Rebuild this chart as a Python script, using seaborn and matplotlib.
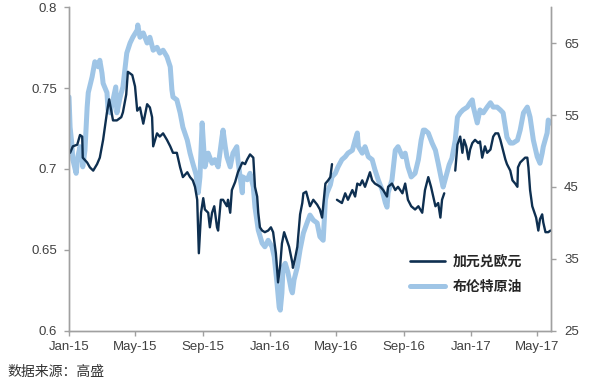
import numpy as np
import pandas as pd
import matplotlib
matplotlib.use('Agg')
import matplotlib.pyplot as plt
from matplotlib.lines import Line2D
import seaborn as sns

# 加元兑欧元 (left axis); NaN marks a break in the line
cad_dates = [
    '2015-01-03', '2015-01-08', '2015-01-16', '2015-01-21', '2015-01-25', '2015-01-26', '2015-02-03',
    '2015-02-08', '2015-02-14', '2015-02-21', '2015-02-26', '2015-03-04', '2015-03-11', '2015-03-15',
    '2015-03-22', '2015-03-29', '2015-04-06', '2015-04-09', '2015-04-15', '2015-04-18', '2015-04-26',
    '2015-05-01', '2015-05-05', '2015-05-10', '2015-05-16', '2015-05-23', '2015-05-28', '2015-06-01',
    '2015-06-03', '2015-06-10', '2015-06-15', '2015-06-21', '2015-06-28', '2015-07-04', '2015-07-09',
    '2015-07-16', '2015-07-22', '2015-07-27', '2015-08-04', '2015-08-09', '2015-08-14', '2015-08-18',
    '2015-08-22', '2015-08-25', '2015-08-29', '2015-09-02', '2015-09-05', '2015-09-11', '2015-09-14',
    '2015-09-18', '2015-09-22', '2015-09-27', '2015-09-29', '2015-10-04', '2015-10-08', '2015-10-15',
    '2015-10-17', '2015-10-21', '2015-10-24', '2015-10-30', '2015-11-04', '2015-11-12', '2015-11-17',
    '2015-11-21', '2015-11-26', '2015-12-02', '2015-12-05', '2015-12-09', '2015-12-11', '2015-12-14',
    '2015-12-18', '2015-12-23', '2015-12-29', '2016-01-03', '2016-01-07', '2016-01-12', '2016-01-16',
    '2016-01-20', '2016-01-23', '2016-01-27', '2016-02-01', '2016-02-05', '2016-02-11', '2016-02-12',
    '2016-02-16', '2016-02-20', '2016-02-21', '2016-02-25', '2016-02-29', '2016-03-02', '2016-03-07',
    '2016-03-11', '2016-03-14', '2016-03-20', '2016-03-27', '2016-04-01', '2016-04-05', '2016-04-11',
    '2016-04-16', '2016-04-20', '2016-04-23', '2016-04-27', '2016-05-02', '2016-05-11', '2016-05-17',
    '2016-05-22', '2016-05-30', '2016-06-04', '2016-06-08', '2016-06-13', '2016-06-17', '2016-06-22',
    '2016-06-26', '2016-07-01', '2016-07-05', '2016-07-10', '2016-07-20', '2016-07-25', '2016-08-01',
    '2016-08-03', '2016-08-10', '2016-08-16', '2016-08-21', '2016-08-29', '2016-09-03', '2016-09-08',
    '2016-09-14', '2016-09-21', '2016-09-27', '2016-10-04', '2016-10-09', '2016-10-15', '2016-10-20',
    '2016-10-28', '2016-11-02', '2016-11-06', '2016-11-09', '2016-11-13', '2016-11-22', '2016-12-03',
    '2016-12-07', '2016-12-12', '2016-12-16', '2016-12-19', '2016-12-23', '2016-12-27', '2016-12-30',
    '2017-01-03', '2017-01-08', '2017-01-14', '2017-01-17', '2017-01-21', '2017-01-26', '2017-01-30',
    '2017-02-05', '2017-02-10', '2017-02-14', '2017-02-19', '2017-02-23', '2017-02-26', '2017-03-04',
    '2017-03-07', '2017-03-13', '2017-03-17', '2017-03-22', '2017-03-26', '2017-03-27', '2017-03-31',
    '2017-04-06', '2017-04-09', '2017-04-13', '2017-04-15', '2017-04-18', '2017-04-22', '2017-04-26',
    '2017-04-29', '2017-05-03', '2017-05-06', '2017-05-10', '2017-05-12', '2017-05-16', '2017-05-19',
    '2017-05-21', '2017-05-25',
]
cad_values = [
    0.710, 0.714, 0.715, 0.721, 0.720, 0.707, 0.704,
    0.701, 0.699, 0.703, 0.707, 0.718, 0.735, 0.743,
    0.730, 0.730, 0.732, 0.735, 0.746, 0.760, 0.758,
    0.751, 0.736, 0.738, 0.728, 0.740, 0.738, 0.732,
    0.714, 0.722, 0.720, 0.722, 0.718, 0.714, 0.710,
    0.710, 0.701, 0.695, 0.698, 0.695, 0.693, 0.689,
    0.681, 0.648, 0.673, 0.682, 0.675, 0.673, 0.664,
    0.673, 0.677, 0.664, 0.662, 0.681, 0.681, 0.677,
    0.681, 0.673, 0.687, 0.692, 0.698, 0.704, 0.703,
    0.706, 0.709, 0.707, 0.689, 0.683, 0.673, 0.664,
    0.662, 0.661, 0.662, 0.664, 0.661, 0.648, 0.630,
    0.641, 0.654, 0.661, 0.656, 0.652, 0.642, 0.639,
    0.645, 0.652, 0.656, 0.672, 0.679, 0.685, 0.686,
    0.681, 0.677, 0.681, 0.678, 0.675, 0.670, 0.691,
    0.693, 0.695, 0.703, np.nan, 0.681, 0.679, 0.685,
    0.681, 0.687, 0.683, 0.691, 0.690, 0.693, 0.689,
    0.693, 0.698, 0.693, 0.691, 0.689, 0.687, 0.683,
    0.689, 0.691, 0.687, 0.689, 0.685, 0.691, 0.681,
    0.677, 0.675, 0.677, 0.673, 0.687, 0.695, 0.689,
    0.677, 0.679, 0.670, 0.681, 0.685, np.nan, 0.699,
    0.715, 0.720, 0.710, 0.718, 0.714, 0.706, 0.712,
    0.716, 0.718, 0.716, 0.717, 0.707, 0.714, 0.710,
    0.712, 0.720, 0.722, 0.722, 0.718, 0.714, 0.706,
    0.703, 0.699, 0.693, 0.691, 0.689, 0.701, 0.704,
    0.706, 0.707, 0.707, 0.701, 0.687, 0.677, 0.673,
    0.670, 0.662, 0.669, 0.672, 0.667, 0.661, 0.661,
    0.661, 0.662,
]

# 布伦特原油 (right axis)
brent_dates = [
    '2015-01-01', '2015-01-03', '2015-01-06', '2015-01-08', '2015-01-14', '2015-01-17', '2015-01-21',
    '2015-01-25', '2015-01-26', '2015-01-30', '2015-02-03', '2015-02-05', '2015-02-12', '2015-02-17',
    '2015-02-23', '2015-02-26', '2015-03-02', '2015-03-04', '2015-03-11', '2015-03-13', '2015-03-17',
    '2015-03-22', '2015-03-27', '2015-03-29', '2015-04-04', '2015-04-09', '2015-04-16', '2015-04-22',
    '2015-04-27', '2015-05-05', '2015-05-06', '2015-05-10', '2015-05-16', '2015-05-23', '2015-05-28',
    '2015-06-03', '2015-06-10', '2015-06-15', '2015-06-21', '2015-06-28', '2015-07-04', '2015-07-07',
    '2015-07-09', '2015-07-16', '2015-07-22', '2015-07-27', '2015-08-04', '2015-08-09', '2015-08-14',
    '2015-08-20', '2015-08-24', '2015-08-27', '2015-08-31', '2015-09-02', '2015-09-05', '2015-09-11',
    '2015-09-18', '2015-09-23', '2015-09-29', '2015-10-06', '2015-10-08', '2015-10-12', '2015-10-15',
    '2015-10-21', '2015-10-26', '2015-11-02', '2015-11-04', '2015-11-08', '2015-11-12', '2015-11-13',
    '2015-11-21', '2015-11-26', '2015-12-02', '2015-12-05', '2015-12-09', '2015-12-11', '2015-12-18',
    '2015-12-23', '2015-12-29', '2016-01-05', '2016-01-09', '2016-01-14', '2016-01-18', '2016-01-20',
    '2016-01-23', '2016-01-25', '2016-01-29', '2016-02-03', '2016-02-09', '2016-02-11', '2016-02-14',
    '2016-02-20', '2016-02-25', '2016-03-02', '2016-03-09', '2016-03-14', '2016-03-20', '2016-03-27',
    '2016-04-01', '2016-04-07', '2016-04-11', '2016-04-14', '2016-04-20', '2016-04-23', '2016-04-29',
    '2016-05-04', '2016-05-11', '2016-05-17', '2016-05-22', '2016-05-30', '2016-06-04', '2016-06-08',
    '2016-06-10', '2016-06-17', '2016-06-22', '2016-06-28', '2016-07-05', '2016-07-10', '2016-07-16',
    '2016-07-23', '2016-07-29', '2016-08-01', '2016-08-03', '2016-08-10', '2016-08-16', '2016-08-21',
    '2016-08-29', '2016-09-03', '2016-09-08', '2016-09-14', '2016-09-21', '2016-09-27', '2016-10-02',
    '2016-10-06', '2016-10-09', '2016-10-15', '2016-10-22', '2016-10-28', '2016-11-02', '2016-11-07',
    '2016-11-11', '2016-11-17', '2016-11-22', '2016-11-27', '2016-12-03', '2016-12-07', '2016-12-12',
    '2016-12-17', '2016-12-25', '2016-12-30', '2017-01-03', '2017-01-05', '2017-01-12', '2017-01-17',
    '2017-01-23', '2017-01-30', '2017-02-05', '2017-02-10', '2017-02-17', '2017-02-23', '2017-02-28',
    '2017-03-07', '2017-03-13', '2017-03-18', '2017-03-26', '2017-03-31', '2017-04-06', '2017-04-13',
    '2017-04-18', '2017-04-24', '2017-05-01', '2017-05-06', '2017-05-10', '2017-05-12', '2017-05-19',
    '2017-05-21', '2017-05-25',
]
brent_values = [
    57.5, 53.3, 51.1, 48.8, 46.9, 49.2, 50.6,
    48.8, 47.8, 50.1, 56.1, 58.1, 60.3, 62.4,
    61.7, 62.6, 60.8, 59.4, 58.1, 55.7, 55.3,
    57.1, 58.9, 55.3, 57.5, 58.9, 63.6, 65.0,
    65.8, 66.8, 67.5, 65.8, 66.4, 65.0, 65.8,
    64.0, 64.4, 63.6, 64.0, 63.1, 61.7, 58.5,
    57.5, 57.1, 55.3, 53.3, 51.5, 49.7, 48.3,
    46.7, 44.2, 46.4, 53.9, 51.5, 47.8, 49.7,
    48.3, 48.8, 47.8, 51.9, 52.9, 50.6, 49.2,
    47.8, 49.7, 50.6, 48.8, 46.4, 44.2, 46.4,
    46.0, 46.9, 45.0, 42.2, 40.0, 39.0, 37.2,
    36.7, 37.6, 36.7, 35.3, 31.7, 28.3, 27.9,
    30.3, 33.9, 34.4, 33.1, 30.7, 30.3, 32.1,
    33.9, 36.3, 38.6, 40.1, 41.1, 40.4, 40.0,
    38.1, 37.6, 43.2, 44.2, 45.3, 46.4, 46.9,
    47.8, 48.8, 49.2, 49.7, 50.1, 51.5, 52.5,
    50.6, 49.7, 50.6, 49.2, 48.8, 47.4, 46.0,
    44.6, 42.8, 42.2, 44.2, 46.0, 50.1, 50.6,
    49.2, 49.7, 47.8, 46.4, 46.9, 48.8, 51.5,
    52.9, 52.9, 52.5, 51.1, 50.1, 48.3, 46.4,
    45.0, 46.7, 48.1, 49.0, 51.5, 54.7, 55.3,
    55.7, 56.1, 56.7, 57.1, 56.1, 53.9, 55.7,
    55.3, 56.1, 56.7, 56.1, 56.1, 55.7, 55.3,
    51.9, 51.1, 51.1, 51.5, 52.9, 55.3, 56.1,
    54.7, 51.5, 49.2, 48.3, 49.7, 50.6, 52.5,
    54.3, 53.9,
]

left_ticks = [0.6, 0.65, 0.7, 0.75, 0.8]
left_labels = ['0.6', '0.65', '0.7', '0.75', '0.8']
right_ticks = [25, 35, 45, 55, 65]
x_ticks = ['2015-01-01', '2015-05-01', '2015-09-01', '2016-01-01', '2016-05-01',
           '2016-09-01', '2017-01-01', '2017-05-01']
x_labels = ['Jan-15', 'May-15', 'Sep-15', 'Jan-16', 'May-16', 'Sep-16', 'Jan-17', 'May-17']
series_names = ['加元兑欧元', '布伦特原油']

cad = pd.DataFrame({'date': pd.to_datetime(cad_dates), 'value': cad_values})
cad['seg'] = cad['value'].isna().cumsum()
cad = cad.dropna()
brent = pd.DataFrame({'date': pd.to_datetime(brent_dates), 'value': brent_values})

sns.set_style('white')
plt.rcParams['font.family'] = ['Liberation Sans', 'Noto Sans CJK SC', 'DejaVu Sans']

dark = '#0e2f50'
light = '#9fc5e6'
grey = '#a0a0a0'
label_col = '#404040'

fig = plt.figure(figsize=(6, 3.83), dpi=100)
ax = fig.add_axes([0.115, 0.1358, 0.8033, 0.8459])
ax2 = ax.twinx()

sns.lineplot(data=brent, x='date', y='value', ax=ax2, color=light, linewidth=3.6)
sns.lineplot(data=cad, x='date', y='value', units='seg', estimator=None,
             ax=ax, color=dark, linewidth=1.7)
ax.set_zorder(ax2.get_zorder() + 1)
ax.patch.set_visible(False)

ax.set_xlim(pd.Timestamp('2015-01-01'), pd.Timestamp('2017-05-26'))
ax.set_ylim(0.6, 0.8)
ax2.set_ylim(25, 70)
ax.set_xticks(pd.to_datetime(x_ticks))
ax.set_xticklabels(x_labels)
ax.set_yticks(left_ticks)
ax.set_yticklabels(left_labels)
ax2.set_yticks(right_ticks)
ax.set_xlabel('')
ax.set_ylabel('')
ax2.set_ylabel('')

for a in (ax, ax2):
    for side in ('left', 'right', 'bottom', 'top'):
        a.spines[side].set_color(grey)
        a.spines[side].set_linewidth(1.0)
    a.spines['top'].set_visible(False)
    a.tick_params(colors=grey, labelcolor=label_col, labelsize=9.5,
                  length=3.5, width=1.0, direction='out')
ax.tick_params(axis='y', left=True, pad=5)
ax.tick_params(axis='x', bottom=True, pad=4)
ax2.tick_params(axis='y', right=True, pad=6)

handles = [Line2D([], [], color=dark, linewidth=1.9),
           Line2D([], [], color=light, linewidth=3.6)]
fig.legend(handles, series_names, loc='upper left', bbox_to_anchor=(0.672, 0.352),
           frameon=False, handlelength=2.5, handletextpad=0.6, labelspacing=0.75,
           borderpad=0, prop={'family': ['Noto Sans CJK SC'], 'weight': 'bold', 'size': 10})

fig.text(0.012, 1 - 372 / 383, '数据来源：高盛', va='center', ha='left',
         fontsize=10, color='#333333', family=['Noto Sans CJK SC'])

fig.savefig('out.png', dpi=100)
